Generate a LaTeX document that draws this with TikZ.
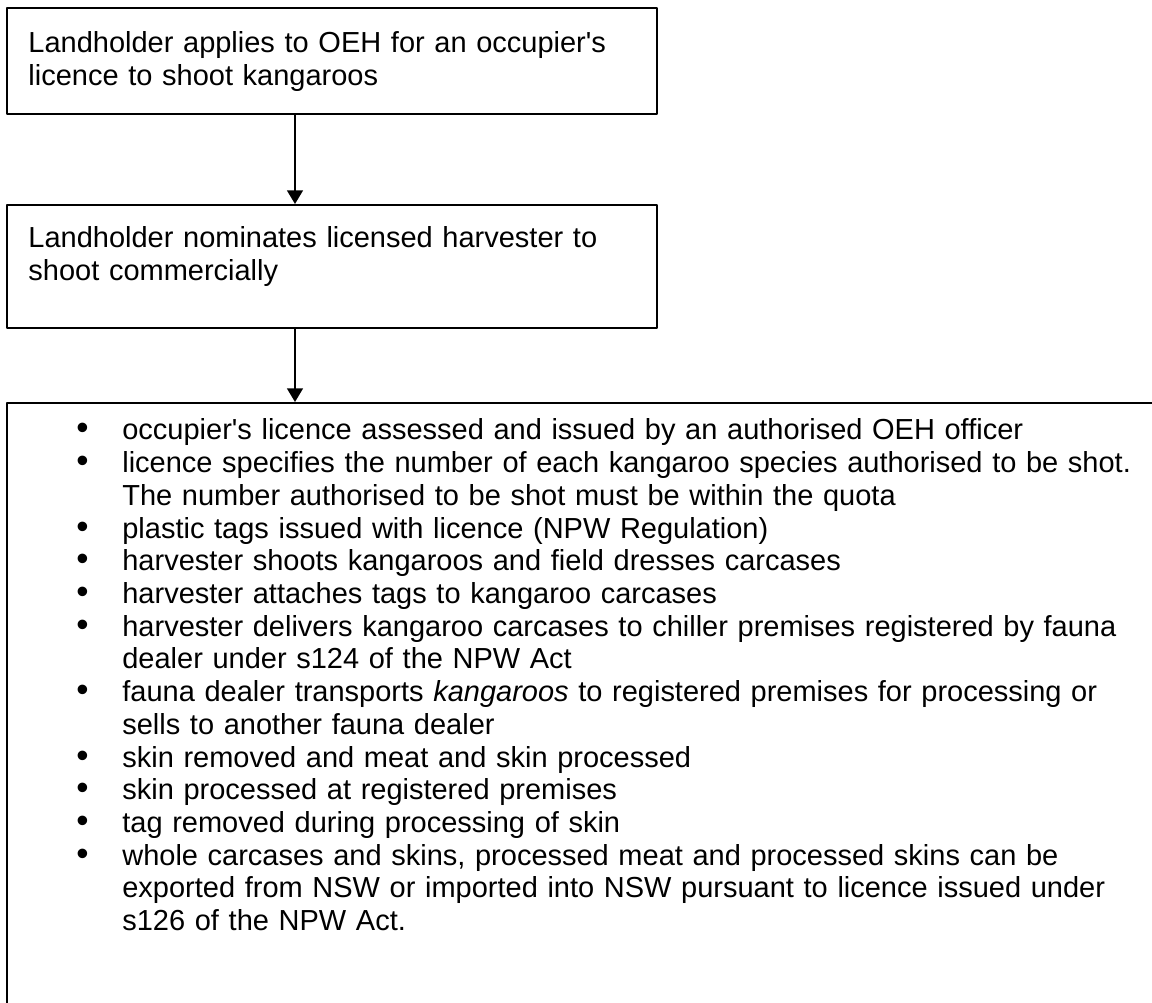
\documentclass[tikz,border=0pt]{standalone}
\usepackage{fontspec}
\setmainfont{Liberation Sans}
\usetikzlibrary{arrows.meta}
\newcommand\bul{\makebox[19pt][l]{\fontsize{14.5}{13.54}\selectfont\textbullet}}
\newcommand\contd{\hspace*{19pt}}
\tikzset{box/.style={draw, line width=1pt, anchor=north west, inner sep=0pt},
         txt/.style={anchor=base west, inner sep=0pt, align=left, text width=#1}}

\begin{document}
\begin{tikzpicture}[x=0.414pt, y=-0.414pt, font=\fontsize{12}{13.54}\selectfont, line join=round, >={Triangle[length=5.6pt,width=6.5pt]}]
            \useasboundingbox (0,0) rectangle (1152,1003);
            \clip (0,0) rectangle (1152,1003);
            % the three boxes
            \node[box, minimum width=269.1pt, minimum height=43.9pt] (b1) at (6,7) {};
            \node[box, minimum width=269.1pt, minimum height=50.9pt] (b2) at (6,204) {};
            \node[box, minimum width=496.8pt, minimum height=289.8pt] (b3) at (6,402) {};
            \node[txt=256pt] (t1) at (28,53) {Landholder applies to OEH for an occupier\textquotesingle s\\licence to shoot kangaroos};
            \node[txt=256pt] (t2) at (28,248) {Landholder nominates licensed harvester to\\shoot commercially};
            \node[txt=445pt] (t3) at (76,440) {\bul occupier\textquotesingle s licence assessed and issued by an authorised OEH officer\\
                \bul licence specifies the number of each kangaroo species authorised to be shot.\\
                \contd The number authorised to be shot must be within the quota\\
                \bul plastic tags issued with licence (NPW Regulation)\\
                \bul harvester shoots kangaroos and field dresses carcases\\
                \bul harvester attaches tags to kangaroo carcases\\
                \bul harvester delivers kangaroo carcases to chiller premises registered by fauna\\
                \contd dealer under s124 of the NPW Act\\
                \bul fauna dealer transports \textit{kangaroos} to registered premises for processing or\\
                \contd sells to another fauna dealer\\
                \bul skin removed and meat and skin processed\\
                \bul skin processed at registered premises\\
                \bul tag removed during processing of skin\\
                \bul whole carcases and skins, processed meat and processed skins can be\\
                \contd exported from NSW or imported into NSW pursuant to licence issued under\\
                \contd s126 of the NPW Act.};
            % arrows
            \coordinate (ax) at (295,0);
            \draw[->, line width=0.8pt] (b1.south -| ax) -- (b2.north -| ax);
            \draw[->, line width=0.8pt] (b2.south -| ax) -- (b3.north -| ax);
        \end{tikzpicture}
\end{document}
